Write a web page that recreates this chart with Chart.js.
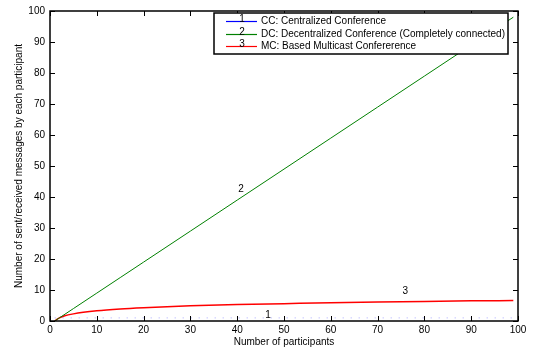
<!DOCTYPE html>
<html>
<head>
<meta charset="utf-8">
<script src="https://cdn.jsdelivr.net/npm/chart.js@4/dist/chart.umd.min.js"></script>
<style>
  body { margin: 0; background: #fff; }
  canvas { display: block; }
</style>
</head>
<body>
<canvas id="myChart" width="536" height="351"></canvas>
<script>
// data
const participants = [1, 2, 3, 5, 10, 15, 20, 30, 40, 50, 60, 70, 80, 90, 99];
const ccValues = [1, 1, 1, 1, 1, 1, 1, 1, 1, 1, 1, 1, 1, 1, 1];
const dcValues = [0, 1, 2, 4, 9, 14, 19, 29, 39, 49, 59, 69, 79, 89, 98];
const mcValues = [0, 1, 1.6, 2.3, 3.3, 3.9, 4.3, 4.9, 5.3, 5.6, 5.9, 6.1, 6.3, 6.5, 6.6];
const seriesNames = [
    'CC: Centralized Conference',
    'DC: Decentralized Conference (Completely connected)',
    'MC: Based Multicast Confererence'
];
const seriesColors = ['#0000ff', '#008000', '#ff0000'];
const curveLabels = [
    { text: '1', x: 46.6, y: 1.9 },
    { text: '2', x: 40.8, y: 42.5 },
    { text: '3', x: 75.9, y: 9.5 }
];
const xTicks = [0, 10, 20, 30, 40, 50, 60, 70, 80, 90, 100];
const yTicks = [0, 10, 20, 30, 40, 50, 60, 70, 80, 90, 100];

const FAMILY = '"Liberation Sans", Arial, sans-serif';
const FONT = '10px ' + FAMILY;

function toPoints(vals){
    return vals.map((v, i) => ({ x: participants[i], y: v }));
}

// frame, inward ticks, curve numbers and the boxed legend (matlab look)
const matlabDecor = {
    id: 'matlabDecor',
    afterDatasetsDraw(chart){
        const c = chart.ctx;
        const a = chart.chartArea;
        const xs = chart.scales.x, ys = chart.scales.y;
        c.save();
        c.strokeStyle = '#000';
        c.lineWidth = 1;
        c.beginPath();
        xTicks.forEach(t => {
            const px = Math.round(xs.getPixelForValue(t)) + 0.5;
            c.moveTo(px, a.bottom); c.lineTo(px, a.bottom - 5);
            c.moveTo(px, a.top); c.lineTo(px, a.top + 5);
        });
        yTicks.forEach(t => {
            const py = Math.round(ys.getPixelForValue(t)) + 0.5;
            c.moveTo(a.left, py); c.lineTo(a.left + 5, py);
            c.moveTo(a.right, py); c.lineTo(a.right - 5, py);
        });
        c.stroke();
        c.lineWidth = 1.5;
        c.strokeRect(a.left, a.top, a.right - a.left, a.bottom - a.top);

        c.fillStyle = '#000';
        c.font = FONT;
        c.textAlign = 'center';
        c.textBaseline = 'middle';
        curveLabels.forEach(l => {
            c.fillText(l.text, xs.getPixelForValue(l.x), ys.getPixelForValue(l.y));
        });

        // legend box
        const lx = 214, ly = 13, lw = 294, lh = 41;
        c.fillStyle = '#fff';
        c.fillRect(lx, ly, lw, lh);
        c.lineWidth = 1.5;
        c.strokeStyle = '#000';
        c.strokeRect(lx, ly, lw, lh);
        const rows = [21, 34, 46];
        seriesNames.forEach((name, i) => {
            c.strokeStyle = seriesColors[i];
            c.lineWidth = 1.2;
            c.beginPath();
            c.moveTo(226, rows[i] + 0.5);
            c.lineTo(257, rows[i] + 0.5);
            c.stroke();
            c.fillStyle = '#000';
            c.textAlign = 'center';
            c.fillText(String(i + 1), 242, rows[i] - 2);
            c.textAlign = 'left';
            c.fillText(name, 261, rows[i] + 0.5);
        });
        c.restore();
    }
};

const ctx = document.getElementById('myChart').getContext('2d');
let myChart = new Chart(ctx, {
    type: 'line',
    data: {
        datasets: [
            { label: seriesNames[0], data: toPoints(ccValues), borderColor: 'rgba(0,0,255,0.35)', borderWidth: 1, borderDash: [1, 7], pointRadius: 0 },
            { label: seriesNames[1], data: toPoints(dcValues), borderColor: seriesColors[1], borderWidth: 1, pointRadius: 0 },
            { label: seriesNames[2], data: toPoints(mcValues), borderColor: seriesColors[2], borderWidth: 1.5, pointRadius: 0, cubicInterpolationMode: 'monotone' }
        ]
    },
    options: {
        responsive: false,
        animation: false,
        layout: { padding: { top: 6, right: 18, bottom: 0, left: 0 } },
        plugins: { legend: { display: false }, tooltip: { enabled: false } },
        scales: {
            x: {
                type: 'linear', min: 0, max: 100,
                afterBuildTicks: s => { s.ticks = xTicks.map(v => ({ value: v })); },
                afterFit: s => { s.height = 30; },
                grid: { display: false, drawTicks: false },
                border: { display: false },
                ticks: { color: '#000', font: { family: FAMILY, size: 10 }, padding: 3, maxRotation: 0 },
                title: { display: true, text: 'Number of participants', color: '#000', font: { family: FAMILY, size: 10 }, padding: { top: 0, bottom: 3 } }
            },
            y: {
                type: 'linear', min: 0, max: 100,
                afterBuildTicks: s => { s.ticks = yTicks.map(v => ({ value: v })); },
                afterFit: s => { s.width = 50; },
                grid: { display: false, drawTicks: false },
                border: { display: false },
                ticks: { color: '#000', font: { family: FAMILY, size: 10 }, padding: 5 },
                title: { display: true, text: 'Number of sent/received messages by each participant', color: '#000', font: { family: FAMILY, size: 10 }, padding: { top: 13, bottom: 0 } }
            }
        }
    },
    plugins: [matlabDecor]
});
</script>
</body>
</html>
